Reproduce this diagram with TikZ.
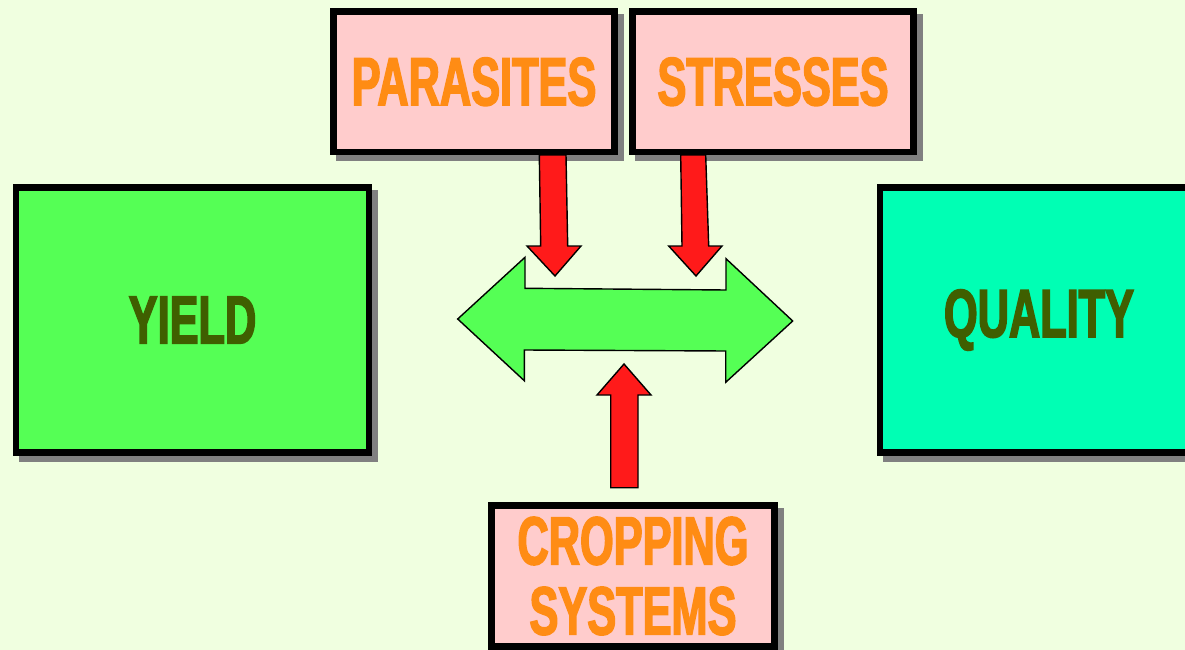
\documentclass[tikz,border=0pt]{standalone}
\usepackage{fontspec}
\newfontfamily\heavyfont{Liberation Sans Bold}[FakeStretch=0.635, FakeBold=2.2]
\usetikzlibrary{shadows}
\definecolor{bgcream}{RGB}{240,255,224}
\definecolor{causepink}{RGB}{255,204,204}
\definecolor{causeorange}{RGB}{255,140,20}
\definecolor{yieldgreen}{RGB}{85,255,85}
\definecolor{qualityteal}{RGB}{0,255,180}
\definecolor{outcomeolive}{RGB}{63,95,0}
\definecolor{arrowred}{RGB}{255,26,26}
\definecolor{shadowgray}{RGB}{128,128,128}
\begin{document}
\begin{tikzpicture}[x=0.025cm, y=-0.025cm,
    box/.style={draw=black, line width=4.6pt, inner sep=0pt, align=center,
      font=\heavyfont\fontsize{48.5}{49.8}\selectfont,
      drop shadow={shadow xshift=4.3pt, shadow yshift=-4.3pt, fill=shadowgray,
        draw=shadowgray, line width=4.6pt, opacity=1}},
    cause/.style={box, fill=causepink, text=causeorange,
      minimum width=7.03cm, minimum height=3.51cm},
    outcome/.style={box, text=outcomeolive, minimum height=6.63cm},
    blockarrow/.style={draw=black, line width=1pt, line join=miter}]

  % Background and page size
  \fill[bgcream] (0,0) rectangle (1185,650);
  \useasboundingbox (0,0) rectangle (1185,650);

  %% ===== OUTCOMES =====
  \node[outcome, fill=yieldgreen, minimum width=8.83cm] (yield) at (192.5,320) {YIELD};
  \node[outcome, fill=qualityteal, minimum width=7.95cm] (quality) at (1039,320) {QUALITY};

  %% ===== CAUSES =====
  \node[cause] (parasites) at (474,81.75) {PARASITES};
  \node[cause] (stresses) at (773,81.75) {STRESSES};
  \node[cause, minimum width=7.08cm, minimum height=3.53cm] (cropping) at (633,576)
    {CROPPING\hspace{0.25em}\\SYSTEMS};

  %% ===== CENTRAL DOUBLE ARROW (yield <-> quality) =====
  \draw[blockarrow, fill=yieldgreen] (457.7,319) -- (525,257.3) -- (525,288.3)
    -- (726,290) -- (726,258.7) -- (792.7,321) -- (725.7,382.3) -- (725.7,351)
    -- (524.3,350) -- (524.3,380.7) -- cycle;

  % Parasites -> balance
  \draw[blockarrow, fill=arrowred] (539.3,155) -- (540.7,246) -- (527,246) -- (555,276)
    -- (581,246) -- (567.7,246) -- (566,155) -- cycle;

  % Stresses -> balance
  \draw[blockarrow, fill=arrowred] (680.7,155) -- (682,246) -- (668.7,246) -- (696,276)
    -- (722,246) -- (708.7,246) -- (705.7,155) -- cycle;

  % Cropping systems -> balance
  \draw[blockarrow, fill=arrowred] (610.7,487.7) -- (610.7,395) -- (597,395) -- (624,364)
    -- (651,395) -- (638,395) -- (638,487.7) -- cycle;

\end{tikzpicture}
\end{document}
